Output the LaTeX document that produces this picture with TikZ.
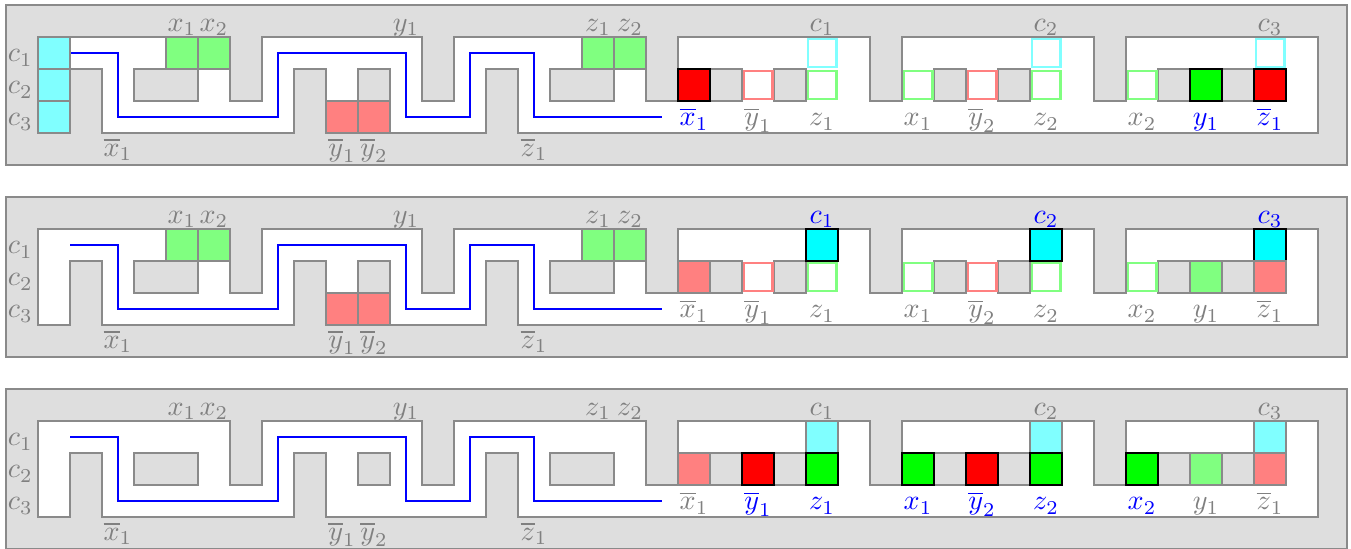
\documentclass[tikz,border=0pt]{standalone}
\definecolor{boardgray}{HTML}{DEDEDE}
\definecolor{edgegray}{HTML}{8A8A8A}
\definecolor{labgray}{HTML}{808080}
\definecolor{aqua}{RGB}{0,255,255}
\definecolor{lime}{RGB}{0,255,0}
\definecolor{scarlet}{RGB}{255,0,0}
\tikzset{
  board/.style={fill=boardgray, draw=edgegray, line width=0.5pt},
  free/.style={fill=white, draw=edgegray, line width=0.5pt},
  wall/.style={fill=boardgray, draw=edgegray, line width=0.5pt},
  light/.style={fill=#1!50, draw=edgegray, line width=0.5pt},
  strong/.style={fill=#1, draw=black, line width=0.6pt},
  ring/.style={fill=white, draw=#1!50, line width=1pt},
  lab/.style={text=labgray, inner sep=0pt, anchor=base},
  route/.style={draw=blue, line width=0.8pt},
}
\newcommand{\cell}[3]{\path[#1] (#2,-#3) rectangle ++(1,-1);}
\newcommand{\ringcell}[3]{\path[ring=#1] (#2+0.06,-#3-0.06) rectangle ++(0.88,-0.88);}
% the corridor, the walls and the route shared by the three panels
\newcommand{\board}[1]{%
  \path[board] (-1,1) rectangle (40.9,-4);
  \path[free] (0,0) -- (6,0) -- (6,-2) -- (7,-2) -- (7,0) -- (12,0) -- (12,-2) -- (13,-2) -- (13,0)
    -- (19,0) -- (19,-2) -- (20,-2) -- (20,0) -- (26,0) -- (26,-2) -- (27,-2) -- (27,0)
    -- (33,0) -- (33,-2) -- (34,-2) -- (34,0) -- (40,0) -- (40,-3) -- (15,-3) -- (15,-1)
    -- (14,-1) -- (14,-3) -- (9,-3) -- (9,-1) -- (8,-1) -- (8,-3) -- (2,-3) -- (2,-1)
    -- (1,-1) -- (1,-3) -- (0,-3) -- cycle;
  \path[wall] (3,-1) rectangle (5,-2);
  \path[wall] (10,-1) rectangle (11,-2);
  \path[wall] (16,-1) rectangle (18,-2);
  \foreach \k in {21,23,28,30,35,37} \path[wall] (\k,-1) rectangle ++(1,-1);
  \draw[route] (1,-0.5) -| (2.5,-2.5) -| (7.5,-0.5) -| (11.5,-2.5) -| (13.5,-0.5) -| (15.5,-2.5) -- (19.5,-2.5);
  \foreach \r in {1,2,3} \node[lab, anchor=base east] (#1-c\r) at (-0.15,0.22-\r) {$c_\r$};
  \node[lab] (#1-x1) at (4.5,0.18) {$x_1$};
  \node[lab] (#1-x2) at (5.5,0.18) {$x_2$};
  \node[lab] (#1-y1) at (11.5,0.18) {$y_1$};
  \node[lab] (#1-z1) at (17.5,0.18) {$z_1$};
  \node[lab] (#1-z2) at (18.5,0.18) {$z_2$};
  \node[lab] (#1-nx1) at (2.5,-3.72) {$\overline{x}_1$};
  \node[lab] (#1-ny1) at (9.5,-3.72) {$\overline{y}_1$};
  \node[lab] (#1-ny2) at (10.5,-3.72) {$\overline{y}_2$};
  \node[lab] (#1-nz1) at (15.5,-3.72) {$\overline{z}_1$};
}
\begin{document}
\begin{tikzpicture}[x=0.4cm,y=0.4cm]
\useasboundingbox (-1.1875,1.156) rectangle (41.03,-15.97);

% first panel
\begin{scope}
  \board{a}
  \foreach \r in {0,1,2} {\cell{light=aqua}{0}{\r}}
  \cell{light=lime}{4}{0} \cell{light=lime}{5}{0}
  \cell{light=lime}{17}{0} \cell{light=lime}{18}{0}
  \cell{light=scarlet}{9}{2} \cell{light=scarlet}{10}{2}
  \cell{strong=scarlet}{20}{1}
  \ringcell{scarlet}{22}{1}
  \ringcell{aqua}{24}{0} \ringcell{lime}{24}{1}
  \ringcell{lime}{27}{1} \ringcell{scarlet}{29}{1}
  \ringcell{aqua}{31}{0} \ringcell{lime}{31}{1}
  \ringcell{lime}{34}{1} \cell{strong=lime}{36}{1}
  \ringcell{aqua}{38}{0} \cell{strong=scarlet}{38}{1}
  \foreach \k/\n in {24/1, 31/2, 38/3}
    \node[lab] (a-top\n) at (\k+0.5,0.18) {$c_\n$};
  \foreach \k/\t/\col in {20/\overline{x}_1/blue, 22/\overline{y}_1/labgray, 24/z_1/labgray,
      27/x_1/labgray, 29/\overline{y}_2/labgray, 31/z_2/labgray,
      34/x_2/labgray, 36/y_1/blue, 38/\overline{z}_1/blue}
    \node[lab, text=\col] (a-in\k) at (\k+0.5,-2.78) {$\t$};
\end{scope}

% second panel
\begin{scope}[shift={(0,-6)}]
  \board{b}
  \cell{light=lime}{4}{0} \cell{light=lime}{5}{0}
  \cell{light=lime}{17}{0} \cell{light=lime}{18}{0}
  \cell{light=scarlet}{9}{2} \cell{light=scarlet}{10}{2}
  \cell{light=scarlet}{20}{1}
  \ringcell{scarlet}{22}{1}
  \cell{strong=aqua}{24}{0} \ringcell{lime}{24}{1}
  \ringcell{lime}{27}{1} \ringcell{scarlet}{29}{1}
  \cell{strong=aqua}{31}{0} \ringcell{lime}{31}{1}
  \ringcell{lime}{34}{1} \cell{light=lime}{36}{1}
  \cell{strong=aqua}{38}{0} \cell{light=scarlet}{38}{1}
  \foreach \k/\n in {24/1, 31/2, 38/3}
    \node[lab, text=blue] (b-top\n) at (\k+0.5,0.18) {$c_\n$};
  \foreach \k/\t in {20/\overline{x}_1, 22/\overline{y}_1, 24/z_1, 27/x_1, 29/\overline{y}_2,
      31/z_2, 34/x_2, 36/y_1, 38/\overline{z}_1}
    \node[lab] (b-in\k) at (\k+0.5,-2.78) {$\t$};
\end{scope}

% third panel
\begin{scope}[shift={(0,-12)}]
  \board{c}
  \cell{light=scarlet}{20}{1}
  \cell{strong=scarlet}{22}{1}
  \cell{light=aqua}{24}{0} \cell{strong=lime}{24}{1}
  \cell{strong=lime}{27}{1} \cell{strong=scarlet}{29}{1}
  \cell{light=aqua}{31}{0} \cell{strong=lime}{31}{1}
  \cell{strong=lime}{34}{1} \cell{light=lime}{36}{1}
  \cell{light=aqua}{38}{0} \cell{light=scarlet}{38}{1}
  \foreach \k/\n in {24/1, 31/2, 38/3}
    \node[lab] (c-top\n) at (\k+0.5,0.18) {$c_\n$};
  \foreach \k/\t/\col in {20/\overline{x}_1/labgray, 22/\overline{y}_1/blue, 24/z_1/blue,
      27/x_1/blue, 29/\overline{y}_2/blue, 31/z_2/blue,
      34/x_2/blue, 36/y_1/labgray, 38/\overline{z}_1/labgray}
    \node[lab, text=\col] (c-in\k) at (\k+0.5,-2.78) {$\t$};
\end{scope}
\end{tikzpicture}
\end{document}
